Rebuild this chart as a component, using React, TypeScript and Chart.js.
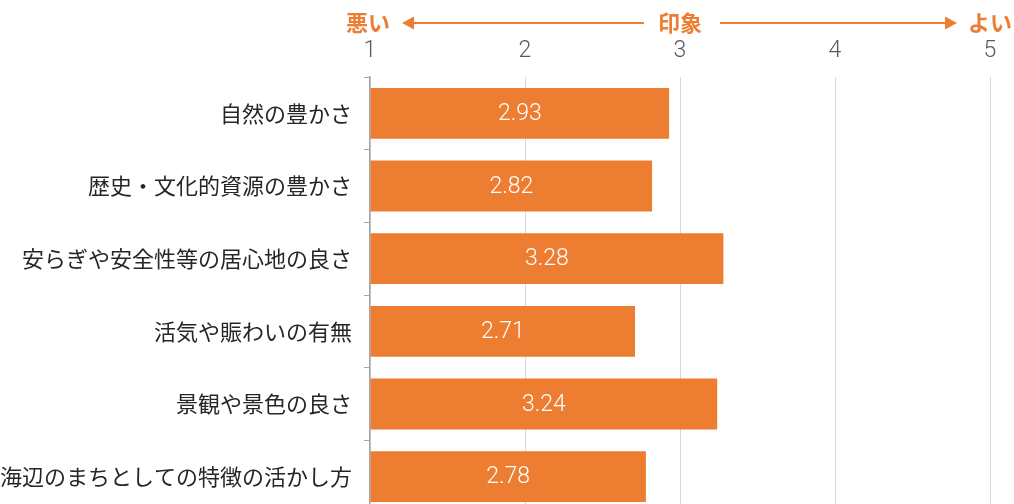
import React, { useEffect, useRef } from "react";
import { Chart, registerables } from "chart.js";

Chart.register(...registerables);

const categories = [
  "自然の豊かさ",
  "歴史・文化的資源の豊かさ",
  "安らぎや安全性等の居心地の良さ",
  "活気や賑わいの有無",
  "景観や景色の良さ",
  "海辺のまちとしての特徴の活かし方",
];
const scores = [2.93, 2.82, 3.28, 2.71, 3.24, 2.78];
const axisTicks = [1, 2, 3, 4, 5];
const headerLeft = "悪い";
const headerCenter = "印象";
const headerRight = "よい";

const ORANGE = "#ED7D31";
const JP_FONT = "'Noto Sans CJK JP', 'Noto Sans', sans-serif";
const NUM_FONT = "Roboto, 'Noto Sans', sans-serif";

const valueLabels = {
  id: "valueLabels",
  afterDatasetsDraw(chart: any) {
    const ctx = chart.ctx;
    const meta = chart.getDatasetMeta(0);
    ctx.save();
    ctx.fillStyle = "#FFFFFF";
    ctx.font = `300 23px ${NUM_FONT}`;
    ctx.textAlign = "center";
    ctx.textBaseline = "middle";
    meta.data.forEach((bar: any, i: number) => {
      const p = bar.getProps(["x", "y", "base"], true);
      ctx.fillText(scores[i].toFixed(2), (p.x + p.base) / 2, p.y + 1);
    });
    ctx.restore();
  },
};

const header = {
  id: "header",
  afterDraw(chart: any) {
    const ctx = chart.ctx;
    const xs = chart.scales.x;
    const y = 23;
    ctx.save();
    ctx.font = `bold 22px ${JP_FONT}`;
    ctx.fillStyle = ORANGE;
    ctx.strokeStyle = ORANGE;
    ctx.textBaseline = "middle";
    ctx.textAlign = "center";
    const lx = xs.getPixelForValue(axisTicks[0]) - 2;
    const cx = xs.getPixelForValue(3);
    const rx = xs.getPixelForValue(axisTicks[axisTicks.length - 1]);
    const lw = ctx.measureText(headerLeft).width;
    const cw = ctx.measureText(headerCenter).width;
    const rw = ctx.measureText(headerRight).width;
    ctx.fillText(headerLeft, lx, y);
    ctx.fillText(headerCenter, cx, y);
    ctx.fillText(headerRight, rx, y);

    const head = 12;
    const half = 6.5;
    ctx.lineWidth = 2;
    const lTip = lx + lw / 2 + 12;
    const lEnd = cx - cw / 2 - 14;
    ctx.beginPath();
    ctx.moveTo(lTip + head - 1, y);
    ctx.lineTo(lEnd, y);
    ctx.stroke();
    ctx.beginPath();
    ctx.moveTo(lTip, y);
    ctx.lineTo(lTip + head, y - half);
    ctx.lineTo(lTip + head, y + half);
    ctx.closePath();
    ctx.fill();
    const rStart = cx + cw / 2 + 18;
    const rTip = rx - rw / 2 - 11;
    ctx.beginPath();
    ctx.moveTo(rStart, y);
    ctx.lineTo(rTip - head + 1, y);
    ctx.stroke();
    ctx.beginPath();
    ctx.moveTo(rTip, y);
    ctx.lineTo(rTip - head, y - half);
    ctx.lineTo(rTip - head, y + half);
    ctx.closePath();
    ctx.fill();
    ctx.restore();
  },
};

export default function App() {
  const ref = useRef<HTMLCanvasElement | null>(null);

  useEffect(() => {
    document.body.style.margin = "0";
    if (!ref.current) return;
    const chart = new Chart(ref.current, {
      type: "bar",
      data: {
        labels: categories,
        datasets: [
          {
            data: scores,
            base: axisTicks[0],
            backgroundColor: ORANGE,
            borderWidth: 0,
            barPercentage: 0.7,
            categoryPercentage: 1,
          } as any,
        ],
      },
      options: {
        indexAxis: "y",
        animation: false,
        responsive: true,
        maintainAspectRatio: false,
        layout: { padding: { top: 0, right: 24, bottom: 0, left: 0 } },
        plugins: {
          legend: { display: false },
          tooltip: { enabled: false },
        },
        scales: {
          x: {
            position: "top",
            min: axisTicks[0],
            max: axisTicks[axisTicks.length - 1],
            afterFit: (s: any) => {
              s.height = 77;
              s.paddingLeft = 0;
              s.paddingRight = 0;
            },
            afterBuildTicks: (s: any) => {
              s.ticks = axisTicks.map((v) => ({ value: v }));
            },
            ticks: {
              color: "#595959",
              padding: 12,
              font: { family: NUM_FONT, size: 23, weight: "300" as any },
            },
            grid: {
              color: "#D9D9D9",
              lineWidth: 1,
              drawTicks: false,
            },
            border: { display: false },
          },
          y: {
            afterFit: (s: any) => {
              s.width = 370;
              s.paddingTop = 0;
              s.paddingBottom = 0;
            },
            ticks: {
              color: "#262626",
              padding: 12,
              font: { family: JP_FONT, size: 22 },
            },
            grid: {
              drawOnChartArea: false,
              drawTicks: true,
              tickLength: 6,
              color: "#A6A6A6",
              offset: true,
            },
            border: { display: true, color: "#A6A6A6", width: 1.5 },
          },
        },
      },
      plugins: [valueLabels, header],
    });
    return () => chart.destroy();
  }, []);

  return (
    <div style={{ width: 1014, height: 504, overflow: "hidden", background: "#fff" }}>
      <div style={{ position: "relative", width: 1014, height: 513 }}>
        <canvas ref={ref} />
      </div>
    </div>
  );
}
